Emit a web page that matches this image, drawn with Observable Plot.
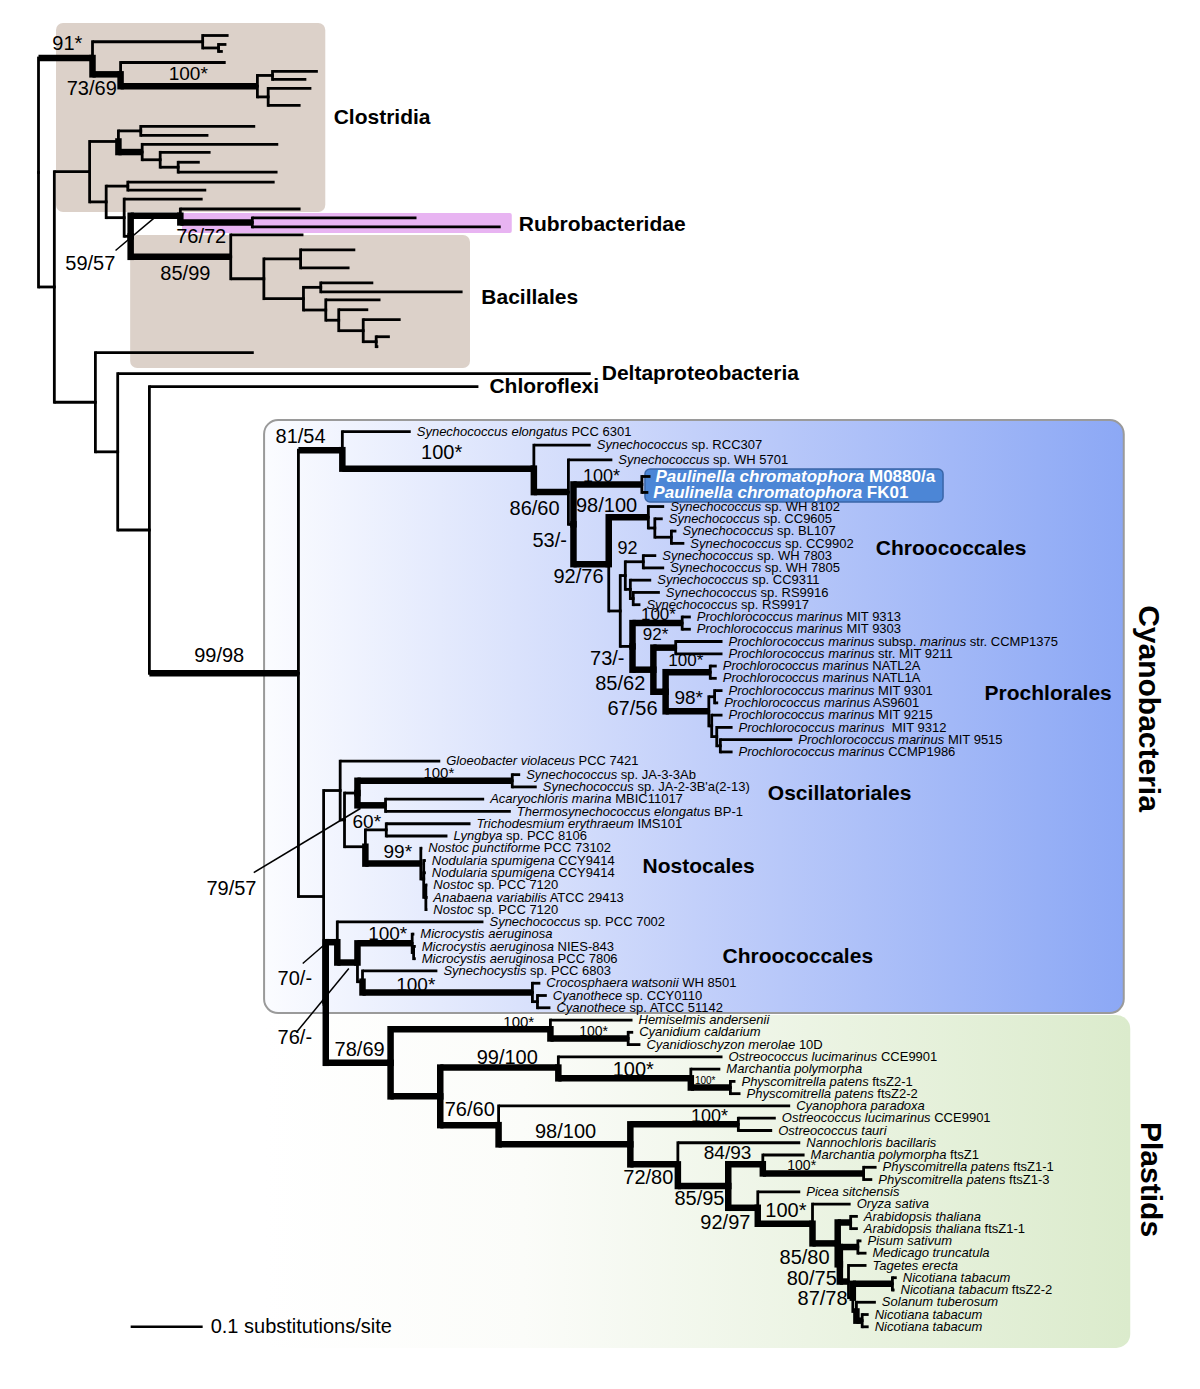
<!DOCTYPE html>
<html><head><meta charset="utf-8">
<script src="https://cdn.jsdelivr.net/npm/d3@7"></script>
<script src="https://cdn.jsdelivr.net/npm/@observablehq/plot@0.6"></script>
<style>
html,body{margin:0;padding:0;background:#fff;}
#chart svg{display:block;}
#chart text{white-space:pre;}
</style>
</head><body><div id="chart"></div>
<script>
// ---------- DATA ----------
// internal nodes: [id, parent, depth (substitutions/site from root), strongly supported]
const bacteriaNodes = [
  ["root", null, 0, 0],
  ["n1","root",0.075,1], ["n2","n1",0.228,0], ["n3","n2",0.250,0],
  ["n4","n1",0.114,1], ["n5","n4",0.304,1], ["n6","n5",0.325,0], ["n7","n5",0.319,0],
  ["n8","root",0.022,0], ["n9","n8",0.071,0], ["n10","n9",0.111,0], ["n11","n10",0.142,0],
  ["n12","n10",0.144,1], ["n13","n12",0.169,0], ["n14","n13",0.194,0],
  ["n15","n9",0.094,0], ["n16","n15",0.124,0], ["n17","n15",0.119,0], ["n18","n17",0.128,0],
  ["n19","n18",0.197,1], ["n20","n19",0.297,1], ["n21","n18",0.267,1], ["n22","n21",0.313,0],
  ["n23","n22",0.364,0], ["n24","n22",0.368,0], ["n25","n24",0.392,0], ["n26","n24",0.399,0],
  ["n27","n26",0.417,0], ["n28","n27",0.451,0], ["n29","n28",0.469,0],
  ["n30","n8",0.079,0], ["n31","n30",0.110,0], ["n32","n31",0.154,0]
];
// leaves in top-to-bottom order: [label, parent, depth, gap to previous leaf in rows]
const bacteriaLeaves = [
  ["","n2",0.264,0], ["","n3",0.261,0.73], ["","n3",0.256,0.57], ["","n4",0.260,0.9],
  ["","n6",0.388,0.73], ["","n6",0.372,0.65], ["","n7",0.379,0.73], ["","n7",0.364,1.39],
  ["","n11",0.301,1.71], ["","n11",0.236,0.73], ["","n12",0.333,0.73], ["","n13",0.239,0.65],
  ["","n14",0.224,0.81], ["","n14",0.332,0.81], ["","n16",0.328,0.81], ["","n16",0.233,0.65],
  ["","n17",0.228,0.73], ["","n19",0.364,0.81], ["","n20",0.525,0.73], ["","n20",0.642,0.73],
  ["","n21",0.368,0.65], ["","n23",0.440,1.22], ["","n23",0.432,1.47], ["","n25",0.465,1.22],
  ["","n25",0.589,0.73], ["","n26",0.475,0.65], ["","n27",0.458,0.81], ["","n28",0.503,0.81],
  ["","n29",0.488,1.39], ["","n29",0.472,0.81], ["","n30",0.299,0.49],
  ["Deltaproteobacteria","n31",0.767,1.71], ["Chloroflexi","n32",0.611,1.06]
];
const cyanoNodes = [
  ["c0","n32",0.361,1], ["c1","c0",0.422,1], ["c2","c1",0.688,1], ["c3","c2",0.736,1],
  ["c4","c3",0.743,0], ["c5","c4",0.838,1], ["c6","c4",0.792,1], ["c7","c6",0.847,1],
  ["c8","c7",0.856,0], ["c9","c8",0.879,0], ["c10","c6",0.808,0], ["c11","c10",0.815,0],
  ["c12","c11",0.840,0], ["c13","c11",0.822,0], ["c14","c13",0.826,0], ["c15","c10",0.825,0],
  ["c16","c15",0.894,1], ["c17","c15",0.854,1], ["c18","c17",0.885,1], ["c19","c17",0.871,1],
  ["c20","c19",0.933,1], ["c21","c19",0.931,1], ["c22","c21",0.939,0], ["c23","c21",0.935,0],
  ["c24","c23",0.942,0], ["c25","c24",0.947,0],
  ["c26","c0",0.396,0], ["c27","c26",0.419,0], ["c28","c27",0.425,0], ["c29","c28",0.443,0],
  ["c30","c29",0.658,1], ["c31","c29",0.482,1], ["c32","c28",0.454,0], ["c33","c32",0.483,0],
  ["c34","c32",0.531,1], ["c35","c34",0.535,0], ["c36","c35",0.538,0],
  ["c37","c26",0.399,0], ["c38","c37",0.415,1], ["c39","c38",0.443,1], ["c40","c39",0.519,1],
  ["c41","c40",0.521,0], ["c42","c39",0.450,0], ["c43","c42",0.686,1], ["c44","c43",0.693,0]
];
const cyanoLeaves = [
  ["_Synechococcus elongatus_ PCC 6301","c1",0.517,3.67],
  ["_Synechococcus_ sp. RCC307","c2",0.767,1.1],
  ["_Synechococcus_ sp. WH 5701","c3",0.797,1.2],
  ["_Paulinella chromatophora_ M0880/a","c5",0.850,1.35],
  ["_Paulinella chromatophora_ FK01","c5",0.847,1.3],
  ["_Synechococcus_ sp. WH 8102","c7",0.869,1.15],
  ["_Synechococcus_ sp. CC9605","c8",0.867],
  ["_Synechococcus_ sp. BL107","c9",0.886],
  ["_Synechococcus_ sp. CC9902","c9",0.897],
  ["_Synechococcus_ sp. WH 7803","c12",0.858],
  ["_Synechococcus_ sp. WH 7805","c12",0.869],
  ["_Synechococcus_ sp. CC9311","c13",0.851],
  ["_Synechococcus_ sp. RS9916","c14",0.863],
  ["_Synechococcus_ sp. RS9917","c14",0.836],
  ["_Prochlorococcus marinus_ MIT 9313","c16",0.906],
  ["_Prochlorococcus marinus_ MIT 9303","c16",0.906],
  ["_Prochlorococcus marinus_ subsp. _marinus_ str. CCMP1375","c18",0.950],
  ["_Prochlorococcus marinus_ str. MIT 9211","c18",0.950],
  ["_Prochlorococcus marinus_ NATL2A","c20",0.942],
  ["_Prochlorococcus marinus_ NATL1A","c20",0.942],
  ["_Prochlorococcus marinus_ MIT 9301","c22",0.950],
  ["_Prochlorococcus marinus_ AS9601","c22",0.944],
  ["_Prochlorococcus marinus_ MIT 9215","c23",0.950],
  ["_Prochlorococcus marinus_  MIT 9312","c24",0.964],
  ["_Prochlorococcus marinus_ MIT 9515","c25",1.047],
  ["_Prochlorococcus marinus_ CCMP1986","c25",0.964],
  ["_Gloeobacter violaceus_ PCC 7421","c27",0.558,0.75],
  ["_Synechococcus_ sp. JA-3-3Ab","c30",0.669,1.1],
  ["_Synechococcus_ sp. JA-2-3B'a(2-13)","c30",0.692],
  ["_Acaryochloris marina_ MBIC11017","c31",0.619],
  ["_Thermosynechococcus elongatus_ BP-1","c31",0.656],
  ["_Trichodesmium erythraeum_ IMS101","c33",0.600],
  ["_Lyngbya_ sp. PCC 8106","c33",0.568],
  ["_Nostoc punctiforme_ PCC 73102","c34",0.533],
  ["_Nodularia spumigena_ CCY9414","c35",0.538],
  ["_Nodularia spumigena_ CCY9414","c35",0.538],
  ["_Nostoc_ sp. PCC 7120","c36",0.540],
  ["_Anabaena variabilis_ ATCC 29413","c36",0.540],
  ["_Nostoc_ sp. PCC 7120","c36",0.540],
  ["_Synechococcus_ sp. PCC 7002","c38",0.618],
  ["_Microcystis aeruginosa_","c40",0.522],
  ["_Microcystis aeruginosa_ NIES-843","c41",0.524],
  ["_Microcystis aeruginosa_ PCC 7806","c41",0.524],
  ["_Synechocystis_ sp. PCC 6803","c42",0.554],
  ["_Crocosphaera watsonii_ WH 8501","c43",0.697],
  ["_Cyanothece_ sp. CCY0110","c44",0.706],
  ["_Cyanothece_ sp. ATCC 51142","c44",0.711]
];
const plastidNodes = [
  ["p0","c37",0.489,1], ["p1","p0",0.711,1], ["p2","p1",0.819,1], ["p3","p0",0.558,1],
  ["p4","p3",0.722,1], ["p5","p4",0.906,1], ["p6","p5",0.961,1], ["p7","p3",0.639,1],
  ["p8","p7",0.822,1], ["p9","p8",0.972,1], ["p10","p8",0.888,1], ["p11","p10",0.958,1],
  ["p12","p11",1.006,1], ["p13","p12",1.146,1], ["p14","p11",0.999,1], ["p15","p14",1.075,1],
  ["p16","p15",1.110,1], ["p17","p16",1.128,1], ["p18","p16",1.113,1], ["p19","p18",1.138,1],
  ["p20","p18",1.125,1], ["p21","p20",1.131,0], ["p22","p21",1.186,1], ["p23","p21",1.136,0],
  ["p24","p23",1.144,1]
];
const plastidLeaves = [
  ["_Hemiselmis andersenii_","p1",0.825],
  ["_Cyanidium caldarium_","p2",0.826],
  ["_Cyanidioschyzon merolae_ 10D","p2",0.836],
  ["_Ostreococcus lucimarinus_ CCE9901","p4",0.950],
  ["_Marchantia polymorpha_","p5",0.947],
  ["_Physcomitrella patens_ ftsZ2-1","p6",0.968],
  ["_Physcomitrella patens_ ftsZ2-2","p6",0.975],
  ["_Cyanophora paradoxa_","p7",1.044],
  ["_Ostreococcus lucimarinus_ CCE9901","p9",1.024],
  ["_Ostreococcus tauri_","p9",1.019],
  ["_Nannochloris bacillaris_","p10",1.058],
  ["_Marchantia polymorpha_ ftsZ1","p12",1.064],
  ["_Physcomitrella patens_ ftsZ1-1","p13",1.164],
  ["_Physcomitrella patens_ ftsZ1-3","p13",1.158],
  ["_Picea sitchensis_","p14",1.058],
  ["_Oryza sativa_","p15",1.128],
  ["_Arabidopsis thaliana_","p17",1.138],
  ["_Arabidopsis thaliana_ ftsZ1-1","p17",1.138],
  ["_Pisum sativum_","p19",1.143],
  ["_Medicago truncatula_","p19",1.150],
  ["_Tagetes erecta_","p20",1.150],
  ["_Nicotiana tabacum_","p22",1.192],
  ["_Nicotiana tabacum_ ftsZ2-2","p22",1.189],
  ["_Solanum tuberosum_","p23",1.163],
  ["_Nicotiana tabacum_","p24",1.153],
  ["_Nicotiana tabacum_","p24",1.153]
];
const highlightedLeaves = ["_Paulinella chromatophora_ M0880/a","_Paulinella chromatophora_ FK01"];
const lineageLeaves = ["Deltaproteobacteria","Chloroflexi"];

// bootstrap / posterior support annotations: [text, depth, row]
const supportLabels = [
  ["91*",0.040,0.65],["73/69",0.074,4.32],["100*",0.208,3.10],["59/57",0.072,18.58],
  ["76/72",0.226,16.38],["85/99",0.204,19.40],["99/98",0.251,50.53],["81/54",0.364,32.68],
  ["100*",0.560,33.99],["86/60",0.689,38.55],["53/-",0.710,41.16],["100*",0.782,35.94],
  ["98/100",0.789,38.30],["92/76",0.750,44.09],["92",0.818,41.81],["100*",0.861,47.19],
  ["92*",0.857,48.82],["73/-",0.790,50.77],["100*",0.899,50.94],["85/62",0.808,52.81],
  ["98*",0.903,53.95],["67/56",0.825,54.85],["100*",0.556,60.15],["60*",0.456,64.06],
  ["99*",0.499,66.50],["79/57",0.268,69.52],["100*",0.485,73.19],["70/-",0.356,76.85],
  ["100*",0.524,77.34],["76/-",0.356,81.66],["78/69",0.446,82.64],["100*",0.667,80.44],
  ["100*",0.771,81.17],["99/100",0.651,83.29],["100*",0.826,84.27],["100*",0.926,85.17],
  ["76/60",0.599,87.53],["98/100",0.732,89.32],["100*",0.932,88.10],["84/93",0.957,91.03],
  ["72/80",0.847,93.07],["100*",1.060,92.09],["85/95",0.918,94.78],["100*",1.038,95.76],
  ["92/97",0.954,96.74],["85/80",1.064,99.59],["80/75",1.074,101.30],["87/78",1.089,102.93]
];
const supportFontSizes = [20,20,19,20,20,20,20,20,20,20,20,18,20,20,18,17,17,20,17,20,19,20,15,19,
  19,20,19,20,19,20,20,15,14,20,20,10,20,20,18,19,20,14,20,20,20,20,20,20];
// leader lines from support label to its node: [depth1,row1,depth2,row2]
const pointerLines = [[0.107,17.52,0.160,14.91],[0.299,68.22,0.447,63.00],[0.367,75.63,0.399,74.00],[0.358,81.26,0.431,76.04]];

const cladeNames = [
  ["Clostridia",0.410,6.68],["Rubrobacteridae",0.667,15.40],["Bacillales",0.615,21.35],
  ["Chroococcales",1.163,41.81],["Prochlorales",1.314,53.63],["Oscillatoriales",1.013,61.78],
  ["Nostocales",0.839,67.73],["Chroococcales",0.950,75.06]
];
const groupNames = [["Cyanobacteria",1.542,54.85],["Plastids",1.544,93.24]];
// shaded clade regions: [name, depth1, depth2, row1, row2]
const cladeBoxes = [["Clostridia",0.025,0.399,-0.98,14.43],["Bacillales",0.128,0.600,16.30,27.14]];
const rubroBox = [["Rubrobacteridae",0.200,0.658,14.51,16.14]];
const cyanoBox = [["Cyanobacteria",0.314,1.508,31.38,79.71]];
const plastidBox = [["Plastids",0.314,1.517,79.87,107.0]];
const paulinellaBox = [["Paulinella",0.843,1.257,35.37,38.06]];
const scaleBar = {length: 0.1, start: 0.128, label: "0.1 substitutions/site"};
// nodes whose connecting vertical lines are drawn thin regardless of support
const thinElbows = ["root", "n32", "c0"];

// ---------- LAYOUT ----------
const U = 12.27; // px per leaf row
const nodes = [...bacteriaNodes, ...cyanoNodes, ...plastidNodes]
  .map(([id, parent, depth, strong]) => ({id, parent, depth, strong: !!strong}));
let r = 0;
const leaves = [...bacteriaLeaves, ...cyanoLeaves, ...plastidLeaves].map(([label, parent, depth, gap], i) => {
  if (i > 0) r += (gap ?? 1);
  return {label, parent, depth, row: r, strong: false, leaf: true};
});
const byId = new Map(nodes.map(n => [n.id, n]));
const kids = new Map();
for (const n of [...nodes, ...leaves]) if (n.parent) {
  if (!kids.has(n.parent)) kids.set(n.parent, []);
  kids.get(n.parent).push(n);
}
function rowOf(n) {
  if (n.row !== undefined) return n.row;
  const rs = kids.get(n.id).map(rowOf);
  n.row = (Math.min(...rs) + Math.max(...rs)) / 2;
  return n.row;
}
nodes.forEach(rowOf);
const THIN = 2.8, THICK = 6.5;
const branches = [...nodes, ...leaves].filter(n => n.parent).map(n => {
  const p = byId.get(n.parent);
  return {px: p.depth, py: p.row, cx: n.depth, cy: n.row,
    w: n.strong ? THICK : THIN, vw: (n.strong && !thinElbows.includes(p.id)) ? THICK : THIN};
});
const lastRow = r;
const FONT = "Liberation Sans, Arial, Helvetica, sans-serif";
const yDom = [-3, 110];

const boxOpts = (fill, extra = {}) => ({x1: d => d[1], x2: d => d[2], y1: d => d[3], y2: d => d[4], fill, ...extra});

const plot = Plot.plot({
  width: 1200, height: 1389,
  marginLeft: 0, marginRight: 0, marginTop: 0, marginBottom: 0,
  x: {domain: [0, 1.6], range: [38, 38 + 1.6 * 720], axis: null},
  y: {domain: yDom, range: [35 + yDom[0] * U, 35 + yDom[1] * U], axis: null},
  style: {background: "white", fontFamily: FONT},
  marks: [
    Plot.rect(plastidBox, boxOpts("url(#plastGrad)", {rx: 14})),
    Plot.rect(cyanoBox, boxOpts("url(#cyanGrad)", {rx: 14, stroke: "#9a9a9a", strokeWidth: 2})),
    Plot.rect(cladeBoxes, boxOpts("#dcd1c9", {rx: 7})),
    Plot.rect(rubroBox, boxOpts("#e8b4f2", {rx: 2})),
    Plot.rect(paulinellaBox, boxOpts("#4c86d6", {rx: 5, stroke: "#3a66a8", strokeWidth: 1.5})),
    Plot.link(branches, {x1: "px", x2: "px", y1: "py", y2: "cy", strokeWidth: d => d.vw, stroke: "black", strokeLinecap: "square"}),
    Plot.link(branches, {x1: "px", x2: "cx", y1: "cy", y2: "cy", strokeWidth: d => d.w, stroke: "black", strokeLinecap: "butt"}),
    Plot.link(pointerLines, {x1: d => d[0], y1: d => d[1], x2: d => d[2], y2: d => d[3], stroke: "black", strokeWidth: 1.5}),
    Plot.text(leaves.filter(d => d.label && !highlightedLeaves.includes(d.label) && !lineageLeaves.includes(d.label)),
      {x: "depth", y: "row", text: "label", textAnchor: "start", dx: 6, fontSize: 13, fill: "black", fontFamily: FONT}),
    Plot.text(leaves.filter(d => highlightedLeaves.includes(d.label)),
      {x: "depth", y: "row", text: "label", textAnchor: "start", dx: 5, fontSize: 17, fontWeight: "bold", fill: "white", fontFamily: FONT}),
    Plot.text(leaves.filter(d => lineageLeaves.includes(d.label)),
      {x: "depth", y: "row", text: "label", textAnchor: "start", dx: 11, fontSize: 21, fontWeight: "bold", fill: "black", fontFamily: FONT}),
    Plot.text(supportLabels, {x: d => d[1], y: d => d[2], text: d => d[0], fontSize: (d, i) => supportFontSizes[i], textAnchor: "middle", fill: "black", fontFamily: FONT}),
    Plot.text(cladeNames, {x: d => d[1], y: d => d[2], text: d => d[0], textAnchor: "start", fontSize: 21, fontWeight: "bold", fill: "black", fontFamily: FONT}),
    Plot.text(groupNames, {x: d => d[1], y: d => d[2], text: d => d[0], rotate: 90, fontSize: 30, fontWeight: "bold", fill: "black", fontFamily: FONT}),
    Plot.link([scaleBar], {x1: d => d.start, x2: d => d.start + d.length, y1: lastRow, y2: lastRow, stroke: "black", strokeWidth: 2.5}),
    Plot.text([scaleBar], {x: d => d.start + d.length, y: lastRow, text: d => d.label, dx: 8, textAnchor: "start", fontSize: 20, fill: "black", fontFamily: FONT})
  ]
});

// gradients for the shaded group boxes
const svg = d3.select(plot.tagName.toLowerCase() === "svg" ? plot : plot.querySelector("svg"));
const defs = svg.insert("defs", ":first-child");
const g1 = defs.append("linearGradient").attr("id", "cyanGrad").attr("x1", 0).attr("x2", 1).attr("y1", 0).attr("y2", 0);
g1.append("stop").attr("offset", 0).attr("stop-color", "#fbfcff");
g1.append("stop").attr("offset", 0.5).attr("stop-color", "#c3d0fa");
g1.append("stop").attr("offset", 1).attr("stop-color", "#8ca8f5");
const g2 = defs.append("linearGradient").attr("id", "plastGrad").attr("x1", 0).attr("x2", 1).attr("y1", 0).attr("y2", 0);
g2.append("stop").attr("offset", 0).attr("stop-color", "#ffffff");
g2.append("stop").attr("offset", 0.3).attr("stop-color", "#fbfcf9");
g2.append("stop").attr("offset", 1).attr("stop-color", "#dbebcc");

// italic genus/species parts marked with underscores
svg.selectAll("text").each(function() {
  const t = this.textContent;
  if (!t.includes("_")) return;
  const parts = t.split("_");
  this.textContent = "";
  this.setAttribute("xml:space", "preserve");
  parts.forEach((p, i) => {
    if (!p) return;
    const ts = document.createElementNS("http://www.w3.org/2000/svg", "tspan");
    ts.textContent = p;
    if (i % 2 === 1) ts.setAttribute("font-style", "italic");
    this.appendChild(ts);
  });
});

document.getElementById("chart").appendChild(plot);
</script></body></html>
